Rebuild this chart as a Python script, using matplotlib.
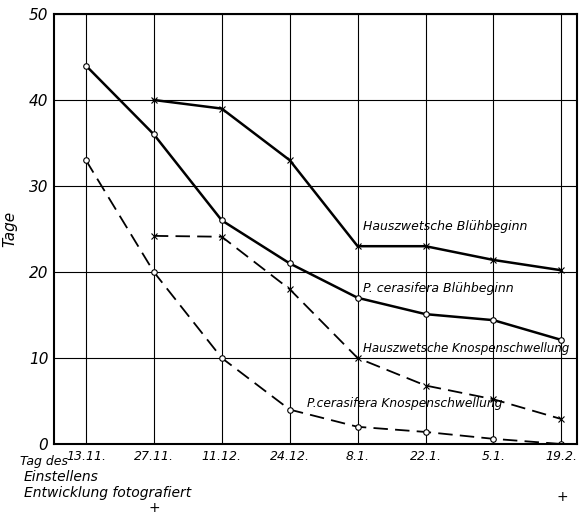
import numpy as np
import matplotlib
matplotlib.use('Agg')
from matplotlib import pyplot as plt

dates = ['13.11.', '27.11.', '11.12.', '24.12.', '8.1.', '22.1.', '5.1.', '19.2.']
x = np.arange(len(dates))

# values in days (None = no point)
pc_bluete = [44, 36, 26, 21, 17, 15.1, 14.4, 12.1]
hz_bluete = [None, 40, 39, 33, 23, 23, 21.4, 20.2]
hz_knospe = [None, 24.2, 24.1, 18, 10, 6.8, 5.2, 2.9]
pc_knospe = [33, 20, 10, 4, 2, 1.4, 0.6, 0]

labels = ['Hauszwetsche Blühbeginn', 'P. cerasifera Blühbeginn',
          'Hauszwetsche Knospenschwellung', 'P.cerasifera Knospenschwellung']

fs = dict(family='DejaVu Sans', style='italic')

fig = plt.figure(figsize=(5.79, 5.14), dpi=100)
ax = fig.add_axes([54/579, 70/514, 523/579, 430/514])

def arr(v):
    return np.array([np.nan if a is None else a for a in v], dtype=float)

ax.plot(x, arr(pc_bluete), color='black', lw=1.8, marker='o', ms=4,
        mfc='white', mec='black', mew=0.8)
ax.plot(x, arr(hz_bluete), color='black', lw=1.8, marker='x', ms=5, mew=0.8)
ax.plot(x, arr(hz_knospe), color='black', lw=1.3, ls=(0, (8, 4)), marker='x',
        ms=5, mew=0.8)
ax.plot(x, arr(pc_knospe), color='black', lw=1.3, ls=(0, (8, 4)), marker='o',
        ms=4, mfc='white', mec='black', mew=0.8)

ax.set_xlim(-0.47, 7.23)
ax.set_ylim(0, 50)
ax.set_xticks(x)
ax.set_xticklabels(dates, **fs, fontsize=9)
ax.set_yticks([0, 10, 20, 30, 40, 50])
ax.set_yticklabels(['0', '10', '20', '30', '40', '50'], **fs, fontsize=11)
ax.tick_params(length=0, pad=4)
ax.grid(True, color='black', lw=0.8)
for s in ax.spines.values():
    s.set_linewidth(1.5)
ax.set_ylabel('Tage', **fs, fontsize=11, labelpad=8)

ax.text(4.08, 24.9, labels[0], **fs, fontsize=9)
ax.text(4.08, 17.7, labels[1], **fs, fontsize=9)
ax.text(4.08, 10.7, labels[2], **fs, fontsize=8.6)
ax.text(3.25, 4.3, labels[3], **fs, fontsize=8.8)

fig.text(20/579, 1 - 461/514, 'Tag des', **fs, fontsize=9, va='center')
fig.text(24/579, 1 - 477/514, 'Einstellens', **fs, fontsize=10, va='center')
fig.text(24/579, 1 - 493/514, 'Entwicklung fotografiert', **fs, fontsize=10,
         va='center')
fig.text(154/579, 1 - 508/514, '+', fontsize=10, ha='center', va='center')
fig.text(562/579, 1 - 497/514, '+', fontsize=10, ha='center', va='center')

fig.savefig('out.png', dpi=100)
